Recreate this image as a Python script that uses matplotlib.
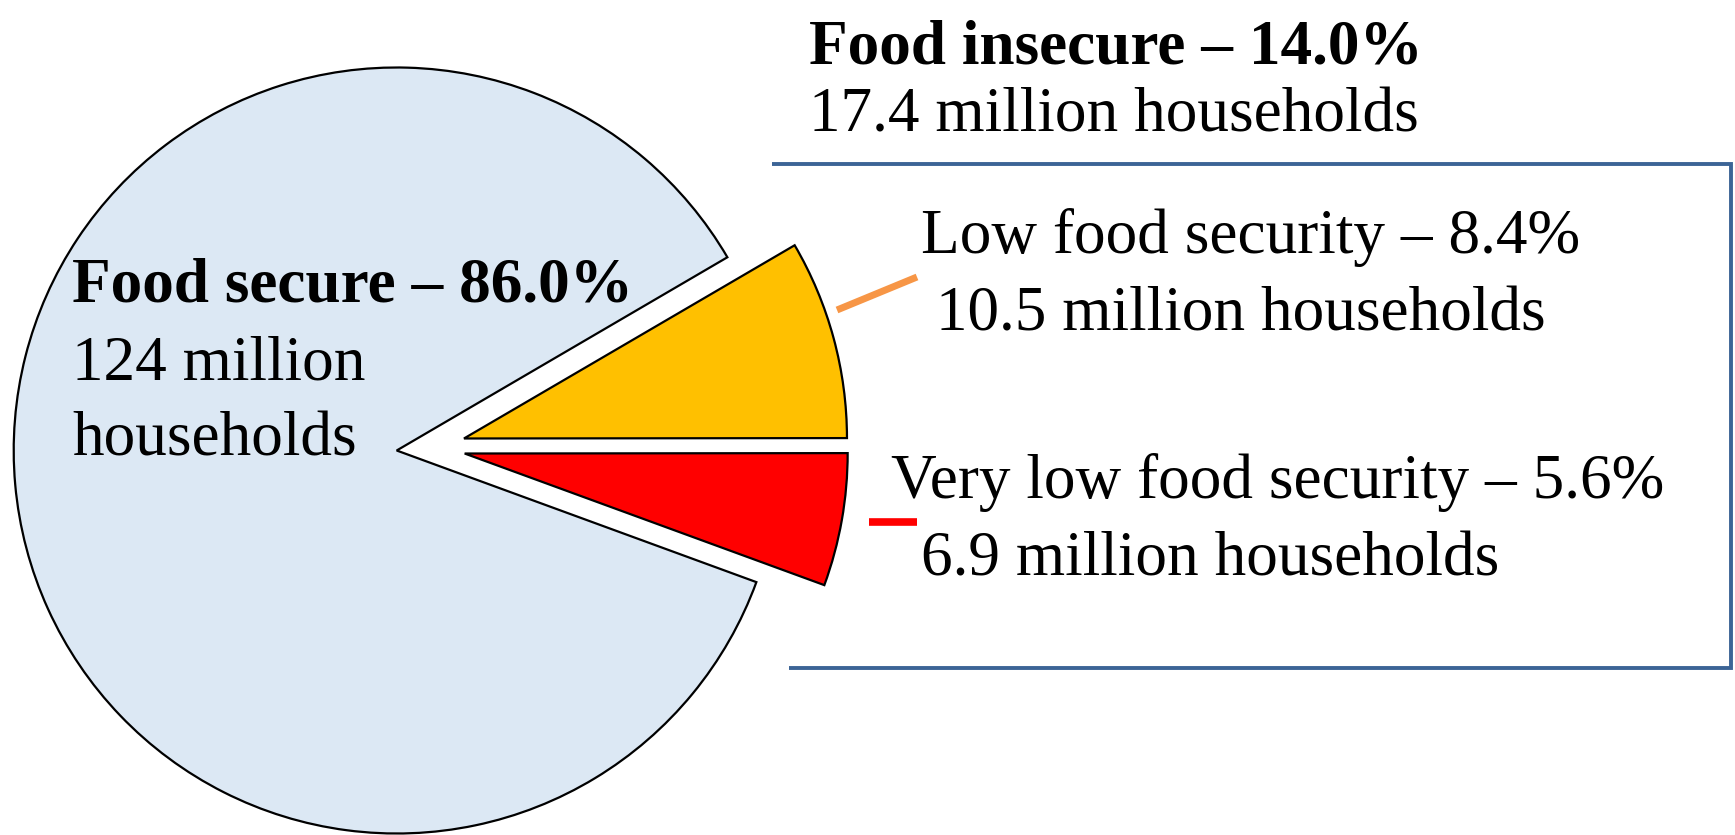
import matplotlib
matplotlib.use("Agg")
import matplotlib.pyplot as plt

# household food security shares (%)
categories = ["Food secure", "Very low food security", "Low food security"]
shares = [86.0, 5.6, 8.4]
households = ["124 million", "6.9 million", "10.5 million"]
colors = ["#DCE8F4", "#FF0000", "#FFC000"]
insecure_share = 14.0
insecure_households = "17.4 million"

W, H = 1735, 835
R_PX = 383.0
CX, CY = 396.7, 450.5


def px(x, y):
    # figure pixel (from top-left) -> data units (pie radius = 1)
    return ((x - CX) / R_PX, (CY - y) / R_PX)


plt.rcParams["font.family"] = ["Liberation Serif", "DejaVu Serif"]
FS = 45.5

fig = plt.figure(figsize=(W / 100, H / 100), dpi=100)
ax = fig.add_axes([0, 0, 1, 1])

wp = dict(edgecolor="black", linewidth=1.6)
# whole pie, only the food secure wedge kept
base, _ = ax.pie(shares, colors=colors, startangle=30.3, radius=1,
                 wedgeprops=wp, frame=False)
for w in base[1:]:
    w.set_visible(False)

# food insecure wedges pulled out as a group
grp, _ = ax.pie(shares, colors=colors, startangle=30.3, radius=1,
                center=(0.0888, 0.0078), explode=[0, 0.09, 0.09],
                wedgeprops=wp, frame=False)
grp[0].set_visible(False)

ax.set_xlim(-CX / R_PX, (W - CX) / R_PX)
ax.set_ylim((CY - H) / R_PX, CY / R_PX)
ax.set_aspect("equal")
ax.axis("off")

# bracket around the food insecure labels
bx = [772, 1731, 1731, 789]
by = [164, 164, 668, 668]
pts = [px(x, y) for x, y in zip(bx, by)]
ax.plot([p[0] for p in pts], [p[1] for p in pts], color="#3C6496",
        lw=2.8, solid_joinstyle="miter", solid_capstyle="butt")

# leader lines
(x0, y0), (x1, y1) = px(837, 310), px(917, 277)
ax.plot([x0, x1], [y0, y1], color="#F79646", lw=5, solid_capstyle="butt")
(x0, y0), (x1, y1) = px(869, 521.7), px(917, 521.7)
ax.plot([x0, x1], [y0, y1], color="#FF0000", lw=5.5, solid_capstyle="butt")


def label(x, y, s, bold=False):
    tx, ty = px(x, y)
    ax.text(tx, ty, s, fontsize=FS, ha="left", va="baseline",
            fontweight="bold" if bold else "normal")


label(809, 63, f"Food insecure – {insecure_share:.1f}%", bold=True)
label(809, 131.5, f"{insecure_households} households")

label(72, 301.5, f"{categories[0]} – {shares[0]:.1f}%", bold=True)
label(72, 379, households[0])
label(72, 455, "households")

label(921, 253, f"{categories[2]} – {shares[2]:.1f}%")
label(936, 330, f"{households[2]} households")

label(891, 498, f"{categories[1]} – {shares[1]:.1f}%")
label(921, 575, f"{households[1]} households")

fig.savefig("out.png", dpi=100)
